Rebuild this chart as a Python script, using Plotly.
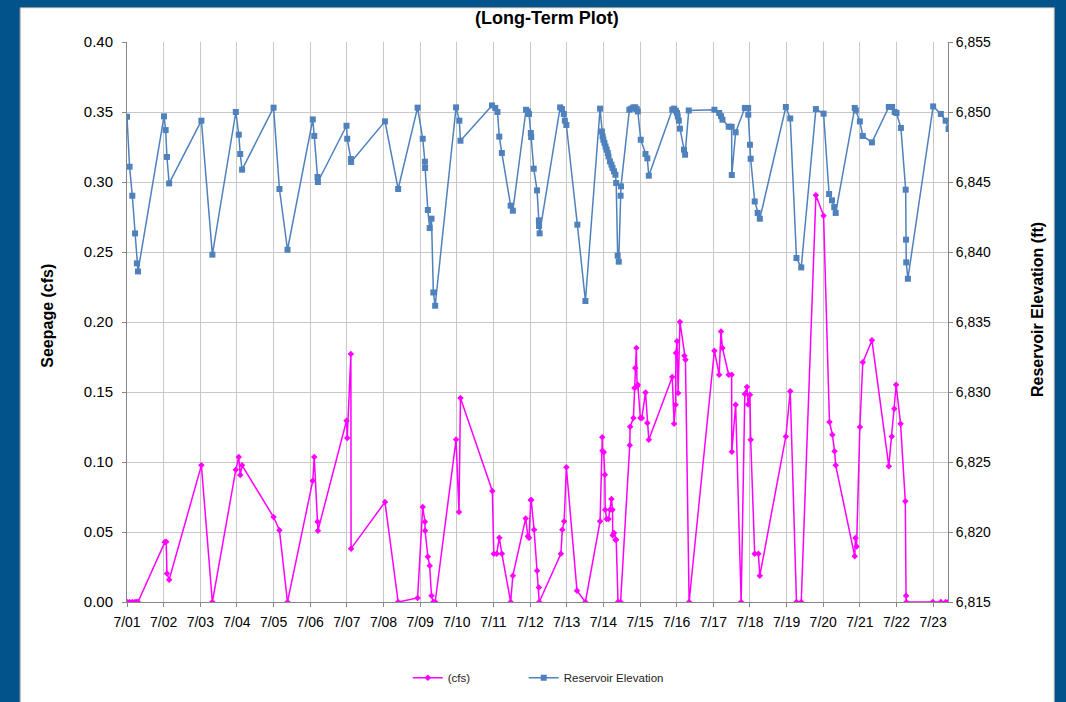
import pandas as pd
import plotly.graph_objects as go

# ---- data (July day-of-month as fractional days) ----
seep_day = [1.00, 1.07, 1.145, 1.22, 1.27, 1.30,
            2.03, 2.07, 2.09, 2.15,
            3.03, 3.33,
            3.97, 4.05, 4.09, 4.14,
            5.00, 5.16, 5.38,
            6.07, 6.11, 6.20, 6.21,
            6.99, 7.01, 7.11, 7.115,
            8.04, 8.40,
            8.93, 9.07, 9.13, 9.135, 9.21, 9.26, 9.31, 9.36, 9.41,
            9.98, 10.06, 10.10,
            10.97, 11.01, 11.09, 11.16, 11.23,
            11.47, 11.53,
            11.88, 11.94, 11.97, 12.02, 12.03, 12.11, 12.19, 12.24, 12.25,
            12.84, 12.88, 12.93, 12.99,
            13.28, 13.51,
            13.91, 13.97, 13.975, 14.01, 14.04, 14.05, 14.09, 14.14, 14.18, 14.22, 14.25, 14.255, 14.29, 14.33, 14.35,
            14.40, 14.47,
            14.72, 14.73, 14.82, 14.85, 14.87, 14.90, 14.92, 14.94,
            15.01, 15.05, 15.15, 15.20, 15.24,
            15.88, 15.93, 15.97, 15.98, 16.01, 16.04, 16.09, 16.21, 16.24,
            16.34,
            17.03, 17.16, 17.21, 17.25, 17.42, 17.50, 17.505, 17.61,
            17.76,
            17.86, 17.92, 17.95, 18.00, 18.02,
            18.13, 18.23, 18.27,
            18.98, 19.10, 19.27, 19.40,
            19.80, 20.01, 20.17, 20.25, 20.31, 20.34,
            20.86, 20.88, 20.91, 21.00, 21.08, 21.33,
            21.79, 21.87, 21.94, 21.99, 22.11, 22.24, 22.26, 22.27,
            22.99, 23.21, 23.34, 23.41]
seep_cfs = [0, 0, 0, 0, 0, 0,
            0.0426, 0.0430, 0.0204, 0.0159,
            0.0976, 0,
            0.0945, 0.1036, 0.0907, 0.0976,
            0.0607, 0.0512, 0,
            0.0866, 0.1036, 0.0574, 0.0509,
            0.1295, 0.1171, 0.1771, 0.0381,
            0.0714, 0,
            0.0029, 0.0679, 0.0574, 0.0509, 0.0324, 0.0259, 0.0045, 0, 0,
            0.1160, 0.0643, 0.1457,
            0.0793, 0.0345, 0.0345, 0.0459, 0.0345,
            0, 0.0188,
            0.0597, 0.0469, 0.0459, 0.0729, 0.0729, 0.0516, 0.0224, 0.0104, 0,
            0.0345, 0.0516, 0.0576, 0.0962,
            0.0081, 0,
            0.0576, 0.1176, 0.1080, 0.1069, 0.0909, 0.0659, 0.0593, 0.0593, 0.0659, 0.0736, 0.0659, 0.0476, 0.0493, 0.0445, 0.0445,
            0, 0,
            0.1119, 0.1252, 0.1314, 0.1529, 0.1671, 0.1814, 0.1540, 0.1552,
            0.1314, 0.1314, 0.1497, 0.1279, 0.1159,
            0.1607, 0.1274, 0.1409, 0.1779, 0.1862, 0.1493, 0.2000, 0.1759, 0.1731,
            0,
            0.1795, 0.1624, 0.1933, 0.1814, 0.1624, 0.1624, 0.1074, 0.1409,
            0,
            0.1486, 0.1536, 0.1410, 0.1480, 0.1159,
            0.0345, 0.0345, 0.0188,
            0.1183, 0.1505, 0, 0,
            0.2905, 0.2759, 0.1286, 0.1195, 0.1076, 0.0976,
            0.0326, 0.0457, 0.0397, 0.1250, 0.1712, 0.1869,
            0.0969, 0.1183, 0.1381, 0.1552, 0.1274, 0.0719, 0.0045, 0,
            0, 0, 0, 0]

res_day = [1.00, 1.07, 1.145, 1.22, 1.27, 1.30,
           2.01, 2.055, 2.09, 2.15,
           3.03, 3.33,
           3.97, 4.05, 4.09, 4.14,
           5.00, 5.16, 5.38,
           6.07, 6.11, 6.20, 6.21,
           6.99, 7.01, 7.11, 7.115,
           8.04, 8.40,
           8.93, 9.07, 9.13, 9.135, 9.21, 9.26, 9.31, 9.36, 9.41,
           9.98, 10.07, 10.10,
           10.96, 11.05, 11.11, 11.16, 11.23, 11.47, 11.53,
           11.89, 11.94, 11.97, 12.02, 12.03, 12.10, 12.19, 12.24, 12.245, 12.26,
           12.82, 12.87, 12.92, 12.95, 12.99,
           13.29, 13.51,
           13.91, 13.96, 13.98, 14.00, 14.03, 14.06, 14.09, 14.12, 14.14, 14.18, 14.22, 14.25, 14.29, 14.33, 14.35,
           14.39, 14.42, 14.47, 14.48,
           14.71, 14.76, 14.82, 14.87, 14.91, 14.94,
           15.02, 15.15, 15.20, 15.24,
           15.88, 15.93, 15.98, 16.01, 16.03, 16.06, 16.09, 16.20, 16.23,
           16.33,
           17.03, 17.16, 17.21, 17.25, 17.42, 17.50, 17.505, 17.61,
           17.86, 17.95, 17.955, 18.00, 18.02, 18.13, 18.21, 18.27,
           18.98, 19.10, 19.27, 19.40,
           19.80, 20.01, 20.16, 20.24, 20.30, 20.34,
           20.86, 20.89, 21.00, 21.08, 21.33,
           21.79, 21.88, 21.95, 22.00, 22.12, 22.25, 22.26, 22.265, 22.31,
           23.00, 23.21, 23.34, 23.42]
res_elev = [6849.66, 6846.09, 6844.02, 6841.33, 6839.19, 6838.61,
            6849.69, 6848.71, 6846.79, 6844.90,
            6849.38, 6839.81,
            6850.00, 6848.38, 6847.00, 6845.88,
            6850.31, 6844.50, 6840.16,
            6849.47, 6848.29, 6845.36, 6845.00,
            6849.02, 6848.09, 6846.64, 6846.43,
            6849.33, 6844.50,
            6850.31, 6848.09, 6846.45, 6846.00, 6843.00, 6841.71, 6842.38, 6837.11, 6836.16,
            6850.33, 6849.38, 6847.95,
            6850.47, 6850.29, 6850.00, 6848.24, 6847.07, 6843.31, 6842.95,
            6850.16, 6850.04, 6849.86, 6848.50, 6848.21, 6845.95, 6844.40, 6842.26, 6841.86, 6841.33,
            6850.33, 6850.21, 6849.86, 6849.38, 6849.07,
            6841.95, 6836.50,
            6850.24, 6848.61, 6848.26, 6848.02, 6847.79, 6847.54, 6847.31, 6847.07, 6846.83, 6846.47, 6846.24, 6846.00, 6845.76, 6845.52, 6844.93,
            6839.74, 6839.31, 6844.02, 6844.69,
            6850.16, 6850.24, 6850.33, 6850.33, 6850.21, 6850.04,
            6848.02, 6847.00, 6846.69, 6845.45,
            6850.16, 6850.24, 6850.09, 6849.93, 6849.69, 6849.38, 6848.81, 6847.31, 6846.95,
            6850.11,
            6850.16, 6849.93, 6849.70, 6849.45, 6848.95, 6848.95, 6845.50, 6848.55,
            6850.29, 6850.29, 6849.81, 6847.66, 6846.66, 6843.61, 6842.79, 6842.38,
            6850.36, 6849.54, 6839.57, 6838.90,
            6850.21, 6849.88, 6844.14, 6843.69, 6843.21, 6842.79,
            6850.29, 6850.11, 6849.33, 6848.29, 6847.83,
            6850.36, 6850.36, 6850.00, 6849.93, 6848.86, 6844.45, 6840.88, 6839.26, 6838.09,
            6850.40, 6849.86, 6849.38, 6848.79]

start = pd.Timestamp("2013-07-01")
seep_x = [start + pd.Timedelta(days=d - 1) for d in seep_day]
res_x = [start + pd.Timedelta(days=d - 1) for d in res_day]
x_end = start + pd.Timedelta(days=22.405)

FONT = "Liberation Sans, Arial, sans-serif"
AX = "#868686"
GRID = "#C8C8C8"
PW = 821.6  # plot width in px
PH = 560.0  # plot height in px

fig = go.Figure()
fig.add_trace(go.Scatter(
    x=seep_x, y=seep_cfs, name="(cfs)", mode="lines+markers",
    showlegend=True, legend="legend",
    line=dict(color="#FF00FF", width=1.5),
    marker=dict(symbol="diamond", size=5, color="#FF00FF"),
))
fig.add_trace(go.Scatter(
    x=res_x, y=res_elev, name="Reservoir Elevation", mode="lines+markers",
    yaxis="y2", showlegend=True, legend="legend2",
    line=dict(color="#4F81BD", width=1.5),
    marker=dict(symbol="square", size=6, color="#4F81BD"),
))

leg_common = dict(orientation="h", xanchor="left",
                  y=(602.3 - 678) / PH, yanchor="middle",
                  font=dict(family=FONT, size=11.5, color="#222222"),
                  bgcolor="rgba(0,0,0,0)")

fig.update_layout(
    width=1066, height=702,
    margin=dict(l=127, r=118, t=42, b=100, autoexpand=False),
    paper_bgcolor="#02528B",
    plot_bgcolor="white",
    font=dict(family=FONT, size=14, color="#000000"),
    title=dict(text="<b>(Long-Term Plot)</b>", x=0.513, xanchor="center",
               y=1 - 18 / 702, yanchor="middle",
               font=dict(family=FONT, size=18, color="#000000")),
    showlegend=True,
    legend=dict(x=(408 - 127) / PW, **leg_common),
    legend2=dict(x=(524 - 127) / PW, **leg_common),
    xaxis=dict(
        type="date", range=[start, x_end], automargin=False,
        tick0=start, dtick=86400000, tickformat="%-m/%d",
        showgrid=True, gridcolor=GRID, gridwidth=1,
        showline=True, linecolor=AX, linewidth=1,
        ticks="outside", ticklen=4, tickcolor=AX,
        ticklabelstandoff=3,
        tickfont=dict(size=14), zeroline=False,
    ),
    yaxis=dict(
        range=[0, 0.40], dtick=0.05, tickformat=".2f", automargin=False,
        showgrid=True, gridcolor=GRID, gridwidth=1,
        showline=True, linecolor=AX, linewidth=1,
        ticks="outside", ticklen=4, tickcolor=AX,
        ticklabelstandoff=6,
        tickfont=dict(size=15), zeroline=False,
    ),
    yaxis2=dict(
        range=[6815, 6855], dtick=5, tickformat=",d", automargin=False,
        overlaying="y", side="right",
        showgrid=False, showline=True, linecolor=AX, linewidth=1,
        ticks="outside", ticklen=4, tickcolor=AX,
        tickfont=dict(size=14), zeroline=False,
    ),
    shapes=[dict(
        type="rect", xref="paper", yref="paper", layer="below",
        x0=(20 - 127) / PW, x1=(1055 - 127) / PW,
        y0=(602.3 - 705) / PH, y1=(602.3 - 8) / PH,
        fillcolor="white", line=dict(color="#A0A0A0", width=1),
    )],
    annotations=[
        dict(text="<b>Seepage (cfs)</b>", xref="paper", yref="paper",
             x=(48 - 127) / PW, y=(602.3 - 316) / PH, textangle=-90, showarrow=False,
             xanchor="center", yanchor="middle",
             font=dict(family=FONT, size=16, color="#000000")),
        dict(text="<b>Reservoir Elevation (ft)</b>", xref="paper", yref="paper",
             x=(1038 - 127) / PW, y=(602.3 - 310) / PH, textangle=-90, showarrow=False,
             xanchor="center", yanchor="middle",
             font=dict(family=FONT, size=16, color="#000000")),
    ],
)

fig.write_html("out.html", config={"displayModeBar": False},
               post_script="document.body.style.margin='0';")
